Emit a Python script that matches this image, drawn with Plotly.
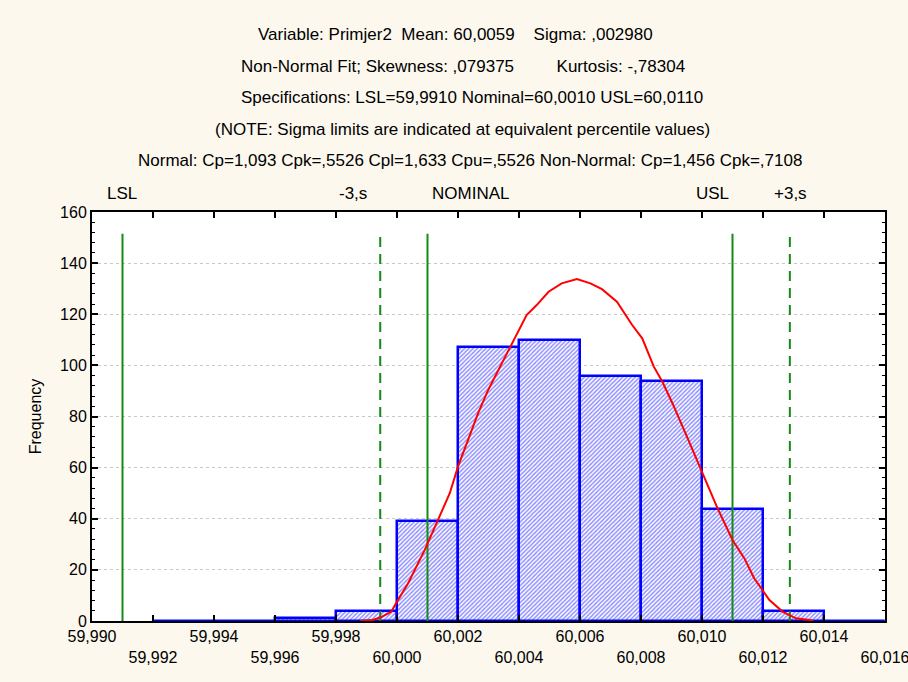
import plotly.graph_objects as go

# ---- data ----
bin_left = [59.992, 59.994, 59.996, 59.998, 60.000, 60.002, 60.004, 60.006, 60.008, 60.010, 60.012, 60.014]
counts   = [0, 0, 1, 4, 39, 107, 110, 96, 94, 44, 4, 0]
bin_width = 0.002

curve_x = [59.9988, 59.9992, 59.99948, 59.99981, 59.99997, 60.00036, 60.00091, 60.00135, 60.00173,
           60.00200, 60.00233, 60.00266, 60.00299, 60.00332, 60.00370, 60.00398, 60.00425, 60.00458,
           60.00497, 60.00540, 60.00590, 60.00634, 60.00672, 60.00721, 60.00771, 60.00804, 60.00842,
           60.00870, 60.00903, 60.00946, 60.00979, 60.01012, 60.01051, 60.01100, 60.01139, 60.01171,
           60.01221, 60.01265, 60.01308, 60.01352, 60.01365]
curve_y = [0, 0.4, 1.5, 3.6, 6.9, 14.7, 27.8, 39.5, 50.0, 60.4, 70.8, 81.3, 90.4, 98.2, 107.3,
           113.8, 119.7, 123.6, 128.8, 132.1, 133.8, 132.1, 129.8, 124.9, 115.8, 110.6, 99.5, 93.6,
           85.2, 73.4, 64.3, 55.2, 44.1, 31.7, 24.5, 16.7, 8.2, 3.6, 1.05, 0.4, 0]

spec_names  = ["LSL", "NOMINAL", "USL"]
spec_values = [59.991, 60.001, 60.011]
sigma_names  = ["-3,s", "+3,s"]
sigma_values = [59.99945, 60.01288]
marker_line_top = 151.5

x_tickvals = [59.990, 59.992, 59.994, 59.996, 59.998, 60.000, 60.002, 60.004,
              60.006, 60.008, 60.010, 60.012, 60.014, 60.016]
x_ticktext = ["59,990", "59,992", "59,994", "59,996", "59,998", "60,000", "60,002",
              "60,004", "60,006", "60,008", "60,010", "60,012", "60,014", "60,016"]

NB = "\u00a0"
title_lines = [
    "Variable: Primjer2" + NB * 2 + "Mean: 60,0059" + NB * 4 + "Sigma: ,002980",
    "Non-Normal Fit; Skewness: ,079375" + NB * 9 + "Kurtosis: -,78304",
    "Specifications: LSL=59,9910 Nominal=60,0010 USL=60,0110",
    "(NOTE: Sigma limits are indicated at equivalent percentile values)",
    "Normal: Cp=1,093 Cpk=,5526 Cpl=1,633 Cpu=,5526 Non-Normal: Cp=1,456 Cpk=,7108",
]

# ---- figure ----
W, H = 908, 682
L, R, T, B = 92, 885, 212, 621
FONT = "Liberation Sans, Arial, sans-serif"

fig = go.Figure()

centers = [b + bin_width / 2 for b in bin_left]
fig.add_trace(go.Bar(
    x=centers, y=counts, width=[bin_width] * len(counts),
    marker=dict(color="#ffffff",
                line=dict(color="#0000ff", width=2.5),
                pattern=dict(shape="/", fgcolor="#1f1fff", bgcolor="#ffffff",
                             size=3, solidity=0.5)),
    showlegend=False, hoverinfo="skip"))

for v in spec_values:
    fig.add_trace(go.Scatter(x=[v, v], y=[0, marker_line_top], mode="lines",
                             line=dict(color="#158a15", width=2),
                             showlegend=False, hoverinfo="skip"))
for v in sigma_values:
    fig.add_trace(go.Scatter(x=[v, v], y=[0, marker_line_top], mode="lines",
                             line=dict(color="#158a15", width=2, dash="10px,7px"),
                             showlegend=False, hoverinfo="skip"))

fig.add_trace(go.Scatter(x=curve_x, y=curve_y, mode="lines",
                         line=dict(color="#ff0000", width=2),
                         showlegend=False, hoverinfo="skip"))

ticktext_rows = [t if i % 2 == 0 else "<br>" + t for i, t in enumerate(x_ticktext)]

fig.update_layout(
    width=W, height=H,
    margin=dict(l=L, r=W - R, t=T, b=H - B, pad=0),
    paper_bgcolor="#fcf8ee", plot_bgcolor="#ffffff",
    font=dict(family=FONT, size=16, color="#000000"),
    bargap=0,
    xaxis=dict(range=[59.990, 60.016], tickvals=x_tickvals, ticktext=ticktext_rows,
               showgrid=False, zeroline=False, automargin=False,
               ticklabeloverflow="allow",
               showline=True, linecolor="#000000", linewidth=2, mirror="allticks",
               ticks="inside", ticklen=6, tickwidth=2, tickcolor="#000000",
               tickfont=dict(size=16, family=FONT)),
    yaxis=dict(range=[0, 160], dtick=20, automargin=False,
               showgrid=True, gridcolor="#c8c8c8", griddash="dot", gridwidth=1,
               zeroline=False,
               showline=True, linecolor="#000000", linewidth=2, mirror="allticks",
               ticks="inside", ticklen=6, tickwidth=2, tickcolor="#000000",
               minor=dict(dtick=4, ticks="inside", ticklen=3, tickcolor="#000000", tickwidth=1),
               tickfont=dict(size=16, family=FONT),
               title=dict(text="Frequency", font=dict(size=16, family=FONT), standoff=14)),
)

ph = B - T
def py2paper(py):
    return (B - py) / ph

def px2paper(px):
    return (px - L) / (R - L)

title_y = [35, 66, 98, 129, 160]
title_cx = [455, 463, 472, 462, 470]
for txt, yy, cx in zip(title_lines, title_y, title_cx):
    fig.add_annotation(text=txt, xref="paper", yref="paper", x=px2paper(cx),
                       y=py2paper(yy), showarrow=False, xanchor="center", yanchor="middle",
                       font=dict(size=17, family=FONT))

label_px = {"LSL": 122, "-3,s": 353, "NOMINAL": 470, "USL": 712, "+3,s": 790}
for name, px in label_px.items():
    fig.add_annotation(text=name, xref="paper", yref="paper", x=px2paper(px),
                       y=py2paper(193), showarrow=False, xanchor="center", yanchor="middle",
                       font=dict(size=17, family=FONT))

fig.write_html("out.html", config={"displayModeBar": False},
               post_script="document.body.style.margin='0px';"
                           "document.body.style.background='#fcf8ee';")
